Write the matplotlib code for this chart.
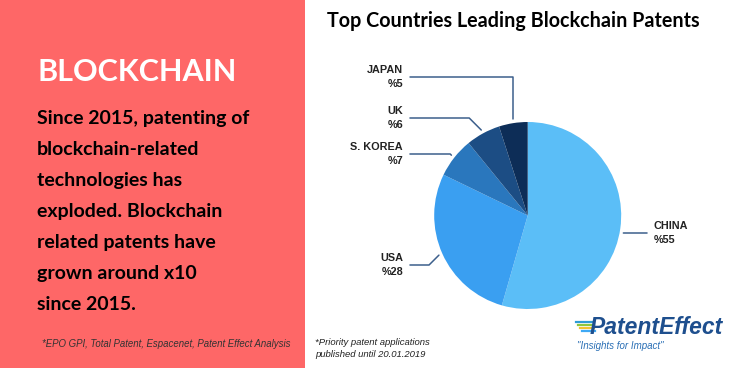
# top countries leading blockchain patents

import numpy as np
import matplotlib.pyplot as plt
from matplotlib.patches import Rectangle
from matplotlib.lines import Line2D

paises = ['CHINA', 'USA', 'S. KOREA', 'UK', 'JAPAN']
percentuais = [55, 28, 7, 6, 5]
cores = ['#5BBEF7', '#3A9FF1', '#2A77BD', '#1C4D84', '#0D2D57']

titulo = 'Top Countries Leading Blockchain Patents'
texto_lado = ('Since 2015, patenting of\nblockchain-related\ntechnologies has\n'
              'exploded. Blockchain\nrelated patents have\ngrown around x10\nsince 2015.')
fonte = '*EPO GPI, Total Patent, Espacenet, Patent Effect Analysis'
nota = '*Priority patent applications\npublished until 20.01.2019'

fig = plt.figure(figsize=(7.36, 3.68), dpi=100)
fig.patch.set_facecolor('white')

# painel vermelho da esquerda
fig.patches.append(Rectangle((0, 0), 305 / 736, 1, transform=fig.transFigure,
                             facecolor='#FE6767', edgecolor='none', zorder=0))

fig.text(37 / 736, 1 - 72 / 368, 'BLOCKCHAIN', color='white', fontsize=22,
         family='Lato', fontweight='bold', va='center', ha='left')
fig.text(37 / 736, 1 - 110 / 368, texto_lado, color='black', fontsize=14,
         family='Lato', fontweight='bold', va='top', ha='left', linespacing=2.0)
fig.text(42 / 736, 1 - 344 / 368, fonte, color='#333333', fontsize=6.9,
         style='italic', family='Liberation Sans', va='center')

fig.text(513 / 736, 1 - 21 / 368, titulo, fontsize=14.2, fontweight='bold',
         family='Lato', ha='center', va='center')

fig.text(315 / 736, 1 - 348.5 / 368, nota, color='#222222', fontsize=6.8,
         style='italic', family='Liberation Sans', va='center', linespacing=1.45)

# logo
for i, c in enumerate(['#2E9BD6', '#8CC63F', '#F2C230', '#3FA9F5']):
    fig.add_artist(Line2D([(576 + 2 * i) / 736, (592 + i) / 736],
                          [1 - (322 + 3 * i) / 368] * 2, color=c, lw=1.6))
fig.text(590 / 736, 1 - 328 / 368, 'PatentEffect', color='#1E4F8E', fontsize=16.5,
         style='italic', fontweight='bold', family='Liberation Sans', va='center')
fig.text(577 / 736, 1 - 346 / 368, '"Insights for Impact"', color='#2A6FB5', fontsize=7,
         style='italic', family='Liberation Sans', va='center')

# pizza
ax = fig.add_axes([(527.7 - 93.5) / 736, (368 - 215.5 - 93.5) / 368, 187 / 736, 187 / 368])
wedges, _ = ax.pie(percentuais, colors=cores, startangle=90, counterclock=False,
                   radius=1, wedgeprops=dict(linewidth=0))
ax.set_xlim(-1, 1)
ax.set_ylim(-1, 1)
ax.axis('off')

posicoes = {
    'CHINA': ((654 - 527.7) / 93.5, (215.5 - 233) / 93.5, 'left', 'arc3'),
    'USA': ((403 - 527.7) / 93.5, (215.5 - 265) / 93.5, 'right', 'angle,angleA=0,angleB=45,rad=0'),
    'S. KOREA': ((403 - 527.7) / 93.5, (215.5 - 154) / 93.5, 'right', 'angle,angleA=0,angleB=135,rad=0'),
    'UK': ((403 - 527.7) / 93.5, (215.5 - 118) / 93.5, 'right', 'angle,angleA=0,angleB=135,rad=0'),
    'JAPAN': ((403 - 527.7) / 93.5, (215.5 - 77) / 93.5, 'right', 'angle,angleA=0,angleB=90,rad=0'),
}

for w, pais, p in zip(wedges, paises, percentuais):
    ang = np.deg2rad((w.theta1 + w.theta2) / 2)
    tx, ty, ha, estilo = posicoes[pais]
    if estilo == 'arc3':
        xy = (np.sqrt(1.04 ** 2 - ty ** 2), ty)
    else:
        xy = (1.04 * np.cos(ang), 1.04 * np.sin(ang))
    ax.annotate(pais + '\n%' + str(p), xy=xy, xytext=(tx, ty), ha=ha, va='center',
                fontsize=7.8, fontweight='bold', family='Liberation Sans', color='#222222',
                linespacing=1.5, annotation_clip=False,
                arrowprops=dict(arrowstyle='-', color='#3C5F8C', lw=1.1,
                                connectionstyle=estilo, shrinkA=3, shrinkB=0))

plt.savefig('out.png', dpi=100)
